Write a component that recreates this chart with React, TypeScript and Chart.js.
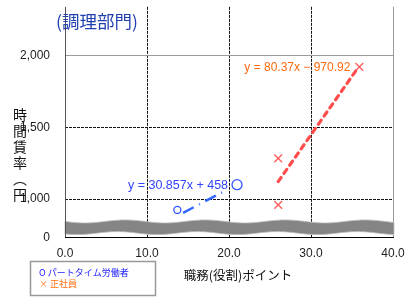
import React, { useEffect, useRef } from "react";
import { Chart, registerables } from "chart.js";
Chart.register(...registerables);

// ---- data ----
const xTickValues = [0, 10, 20, 30, 40];
const yTickValues = [730, 1000, 1500, 2000];
const yTickLabels = ["0", "1,000", "1,500", "2,000"];
const partTimePoints = [
  { x: 13.7, y: 925 },
  { x: 20.98, y: 1101 },
];
const regularPoints = [
  { x: 26.0, y: 1284 },
  { x: 26.0, y: 960 },
  { x: 35.9, y: 1920 },
];
const partTimeTrend = [
  { x: 14.4, y: 905 },
  { x: 19.15, y: 1047 },
];
const regularTrend = [
  { x: 26.0, y: 1122 },
  { x: 35.7, y: 1912 },
];
const breakBand = [764, 845];
const dashedGridX = [10, 20, 30];
const solidGridX = [40];
const dashedGridY = [1000, 1500];
const solidGridY = [2000];
const titleText = "(調理部門)";
const yTitleChars = ["時", "間", "賃", "率", "︵", "円"];
const xTitleText = "職務(役割)ポイント";
const partTimeEq = "y = 30.857x + 458";
const regularEq = "y = 80.37x − 970.92";
const legendItems = [
  { text: "O パートタイム労働者", color: "#1a1aff" },
  { text: "× 正社員", color: "#ff7010" },
];

const CJK = '"Noto Sans CJK JP", sans-serif';
const LAT = '"Liberation Sans", Arial, sans-serif';

const decor = {
  id: "decor",
  beforeDatasetsDraw(chart: any) {
    const { ctx, chartArea, scales } = chart;
    const { left, right, top, bottom } = chartArea;
    const x = scales.x;
    const y = scales.y;
    const line = (x0: number, y0: number, x1: number, y1: number) => {
      ctx.beginPath();
      ctx.moveTo(x0, y0);
      ctx.lineTo(x1, y1);
      ctx.stroke();
    };
    ctx.save();
    ctx.lineWidth = 1;
    ctx.strokeStyle = "#111";
    ctx.setLineDash([3, 1]);
    for (const v of dashedGridX) {
      const px = Math.round(x.getPixelForValue(v)) + 0.5;
      line(px, top, px, bottom);
    }
    for (const v of dashedGridY) {
      const py = Math.round(y.getPixelForValue(v)) + 0.5;
      line(left, py, right, py);
    }
    ctx.setLineDash([]);
    ctx.strokeStyle = "#9a9a9a";
    for (const v of solidGridX) {
      const px = Math.round(x.getPixelForValue(v)) + 0.5;
      line(px, top, px, bottom);
    }
    for (const v of solidGridY) {
      const py = Math.round(y.getPixelForValue(v)) + 0.5;
      line(left, py, right, py);
    }
    // axis break band
    const yT = y.getPixelForValue(breakBand[1]);
    const yB = y.getPixelForValue(breakBand[0]);
    const x0 = left;
    const x1 = right + 1;
    ctx.beginPath();
    for (let px = x0; px <= x1; px++) {
      ctx.lineTo(px, yT + 1.5 * Math.sin(((px - x0) / 80) * Math.PI * 2));
    }
    for (let px = x1; px >= x0; px--) {
      ctx.lineTo(px, yB + 1.5 * Math.sin(((px - x0) / 80) * Math.PI * 2 + 0.6));
    }
    ctx.closePath();
    ctx.fillStyle = "#858585";
    ctx.fill();
    ctx.strokeStyle = "#bdbdbd";
    ctx.lineWidth = 0.8;
    ctx.stroke();
    // axes
    ctx.lineWidth = 1;
    ctx.strokeStyle = "#555";
    line(Math.round(left) + 0.5, top, Math.round(left) + 0.5, bottom);
    ctx.strokeStyle = "#000";
    line(left, Math.round(bottom) - 0.5, right + 1, Math.round(bottom) - 0.5);
    ctx.restore();
  },
  afterDraw(chart: any) {
    const { ctx, scales } = chart;
    const x = scales.x;
    const y = scales.y;
    ctx.save();
    // title
    ctx.fillStyle = "#2040b0";
    ctx.font = `17.5px ${CJK}`;
    ctx.textAlign = "left";
    ctx.textBaseline = "middle";
    ctx.fillText(titleText, 56, 21);
    // y title (vertical)
    ctx.fillStyle = "#111";
    ctx.font = `14px ${CJK}`;
    ctx.textAlign = "center";
    yTitleChars.forEach((c, i) => {
      ctx.fillText(c, 20, 115 + i * 16);
    });
    // x title
    ctx.font = `12.5px ${CJK}`;
    ctx.fillText(xTitleText, 238, 275);
    // equations
    ctx.font = `12px ${LAT}`;
    ctx.textAlign = "right";
    ctx.fillStyle = "#ff6a10";
    const rp = regularPoints[2];
    ctx.fillText(regularEq, x.getPixelForValue(rp.x) - 9, y.getPixelForValue(rp.y) + 1);
    ctx.fillStyle = "#3344ff";
    ctx.font = `12.5px ${LAT}`;
    const pp = partTimePoints[1];
    ctx.fillText(partTimeEq, x.getPixelForValue(pp.x) - 9, y.getPixelForValue(pp.y) + 1);
    // legend
    ctx.strokeStyle = "#999";
    ctx.lineWidth = 1.5;
    ctx.strokeRect(30.5, 261.5, 125, 34);
    ctx.textAlign = "left";
    ctx.font = `9px ${CJK}`;
    legendItems.forEach((it, i) => {
      ctx.fillStyle = it.color;
      ctx.fillText(it.text, 39, 273 + i * 11);
    });
    ctx.restore();
  },
};

export default function App() {
  const ref = useRef<HTMLCanvasElement | null>(null);
  useEffect(() => {
    document.body.style.margin = "0";
    const canvas = ref.current!;
    const chart = new Chart(canvas, {
      type: "scatter",
      data: {
        datasets: [
          {
            type: "line",
            data: regularTrend,
            borderColor: "#ff4d4d",
            borderWidth: 3.2,
            borderDash: [5, 5],
            borderCapStyle: "round",
            pointRadius: 0,
            fill: false,
          } as any,
          {
            type: "line",
            data: partTimeTrend,
            borderColor: "#3366ff",
            borderWidth: 2.5,
            borderDash: [12, 6, 1, 6],
            pointRadius: 0,
            fill: false,
          } as any,
          {
            data: partTimePoints,
            pointStyle: "circle",
            pointRadius: [3.5, 5],
            borderColor: "#3355ff",
            backgroundColor: "rgba(0,0,0,0)",
            borderWidth: 1.3,
          },
          {
            data: regularPoints,
            pointStyle: "crossRot",
            pointRadius: 5.5,
            borderColor: "#ff5a5a",
            backgroundColor: "#ff5a5a",
            borderWidth: 1.3,
          },
        ],
      },
      options: {
        animation: false,
        responsive: false,
        devicePixelRatio: 1,
        layout: { padding: { left: 0, right: 25, top: 0, bottom: 0 } },
        plugins: { legend: { display: false }, tooltip: { enabled: false } },
        scales: {
          x: {
            type: "linear",
            min: 0,
            max: 40,
            grid: { display: false, drawTicks: false },
            border: { display: false },
            afterBuildTicks: (s: any) => {
              s.ticks = xTickValues.map((v) => ({ value: v }));
            },
            afterFit: (s: any) => {
              s.height = 63;
              s.paddingLeft = 0;
              s.paddingRight = 0;
            },
            ticks: {
              padding: 8,
              color: "#222",
              font: { family: "Liberation Sans", size: 12 },
              callback: (v: any) => Number(v).toFixed(1),
              maxRotation: 0,
            },
          },
          y: {
            type: "linear",
            min: 730,
            max: 2338,
            grid: { display: false, drawTicks: false },
            border: { display: false },
            afterBuildTicks: (s: any) => {
              s.ticks = yTickValues.map((v) => ({ value: v }));
            },
            afterFit: (s: any) => {
              s.width = 65;
              s.paddingTop = 0;
              s.paddingBottom = 0;
            },
            ticks: {
              padding: 15,
              color: "#222",
              font: { family: "Liberation Sans", size: 12 },
              callback: (v: any) => {
                const i = yTickValues.indexOf(Number(v));
                return i >= 0 ? yTickLabels[i] : "";
              },
            },
          },
        },
      },
      plugins: [decor],
    });
    return () => chart.destroy();
  }, []);
  return (
    <div style={{ position: "absolute", left: 0, top: 0, width: 418, height: 301, background: "#fff" }}>
      <canvas ref={ref} width={418} height={301} style={{ width: 418, height: 301, display: "block" }} />
    </div>
  );
}
